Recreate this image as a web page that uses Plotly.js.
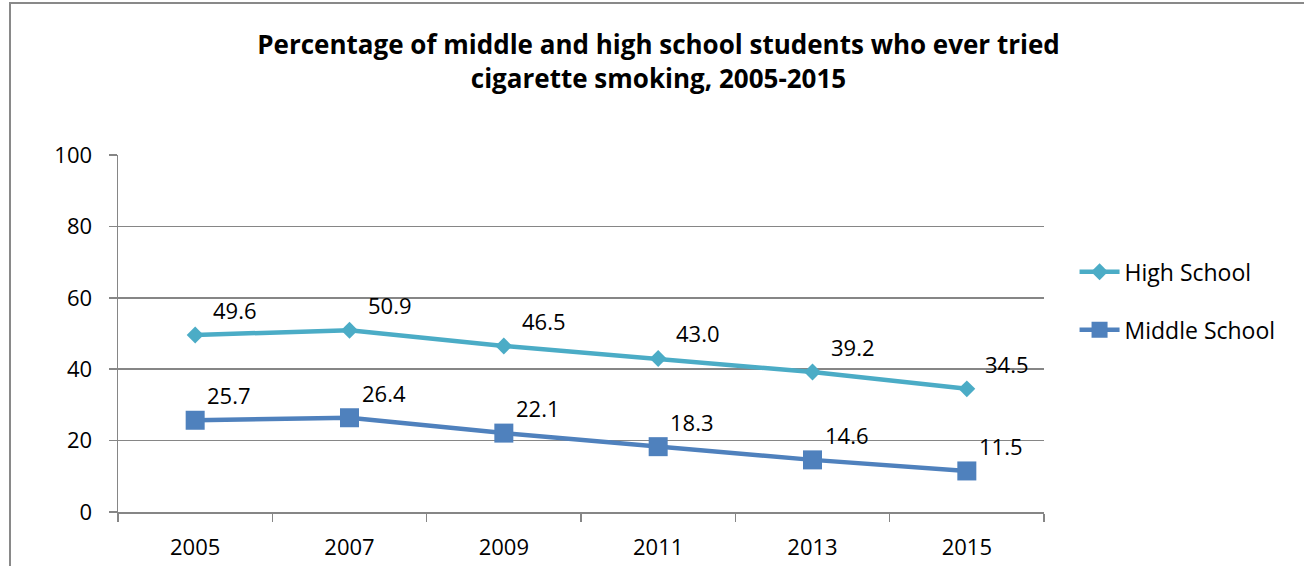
<!DOCTYPE html>
<html>
<head>
<meta charset="utf-8">
<script src="https://cdn.plot.ly/plotly-3.0.1.min.js"></script>
<style>
  html, body { margin: 0; padding: 0; background: #fff; }
  #chart { width: 1304px; height: 566px; }
</style>
</head>
<body>
<div id="chart"></div>
<script>
// ---- data ----
const years = ['2005', '2007', '2009', '2011', '2013', '2015'];
const highSchool = [49.6, 50.9, 46.5, 43.0, 39.2, 34.5];
const middleSchool = [25.7, 26.4, 22.1, 18.3, 14.6, 11.5];
const seriesNames = ['High School', 'Middle School'];
const yTicks = [0, 20, 40, 60, 80, 100];
const titleText = 'Percentage of middle and high school students who ever tried<br>cigarette smoking, 2005-2015';

// ---- styles ----
const FONT = '"Open Sans", "Noto Sans", "Liberation Sans", sans-serif';
const HS_COLOR = '#4BACC6';
const MS_COLOR = '#4F81BD';
const GRID = '#868686';

const traces = [
  {
    x: years, y: highSchool, name: seriesNames[0], type: 'scatter', mode: 'lines+markers',
    line: {color: HS_COLOR, width: 4.5},
    marker: {symbol: 'diamond', size: 13, color: HS_COLOR},
    legendgroup: 'hs', cliponaxis: false
  },
  {
    x: years, y: middleSchool, name: seriesNames[1], type: 'scatter', mode: 'lines+markers',
    line: {color: MS_COLOR, width: 4.5},
    marker: {symbol: 'square', size: 19, color: MS_COLOR},
    legendgroup: 'ms', cliponaxis: false
  }
];

const annotations = [];
function addLabels(vals, dx, dy) {
  vals.forEach((v, i) => {
    annotations.push({
      x: i, y: v, xref: 'x', yref: 'y',
      text: v.toFixed(1), showarrow: false,
      xshift: dx, yshift: dy,
      font: {family: FONT, size: 22, color: '#000'}
    });
  });
}
addLabels(highSchool, 40, 25);
addLabels(middleSchool, 34, 25);

const layout = {
  width: 1304, height: 566,
  margin: {l: 118, r: 260, t: 155, b: 54},
  paper_bgcolor: '#fff', plot_bgcolor: '#fff',
  font: {family: FONT, size: 22, color: '#000'},
  title: {
    text: titleText,
    font: {family: FONT, size: 26, color: '#000', weight: 'bold'},
    x: 0.505, xref: 'container', xanchor: 'center',
    y: 0.905, yref: 'container', yanchor: 'top'
  },
  xaxis: {
    type: 'category',
    categoryorder: 'array', categoryarray: years,
    range: [-0.5, years.length - 0.5], autorange: false,
    showgrid: false,
    showline: true, linecolor: GRID, linewidth: 1.5,
    ticks: 'outside', tickson: 'boundaries', ticklen: 8, tickcolor: GRID, tickwidth: 1.5,
    tickfont: {family: FONT, size: 22, color: '#000'},
    tickangle: 0,
    ticklabelstandoff: 15,
    zeroline: false, fixedrange: true
  },
  yaxis: {
    range: [0, 100], autorange: false,
    tickvals: yTicks, ticktext: yTicks.map(String),
    showgrid: true, gridcolor: GRID, gridwidth: 1.5,
    showline: true, linecolor: GRID, linewidth: 1.5,
    ticks: 'outside', ticklen: 8, tickcolor: GRID, tickwidth: 1.5,
    tickfont: {family: FONT, size: 22, color: '#000'},
    ticklabelstandoff: 12,
    zeroline: false, fixedrange: true
  },
  showlegend: true,
  legend: {
    x: 1.033, xanchor: 'left', y: 0.733, yanchor: 'top',
    traceorder: 'grouped', tracegroupgap: 25,
    font: {family: FONT, size: 23, color: '#000'},
    bgcolor: 'rgba(0,0,0,0)', itemwidth: 40
  },
  annotations: annotations,
  shapes: [
    {
      type: 'rect', xref: 'paper', yref: 'paper',
      x0: (10 - 118) / 926, x1: (1320 - 118) / 926,
      y0: (512 - 600) / 357, y1: (512 - 3) / 357,
      line: {color: '#898989', width: 2}, fillcolor: 'rgba(0,0,0,0)', layer: 'below'
    }
  ]
};

Plotly.newPlot('chart', traces, layout, {displayModeBar: false, staticPlot: true});
</script>
</body>
</html>
